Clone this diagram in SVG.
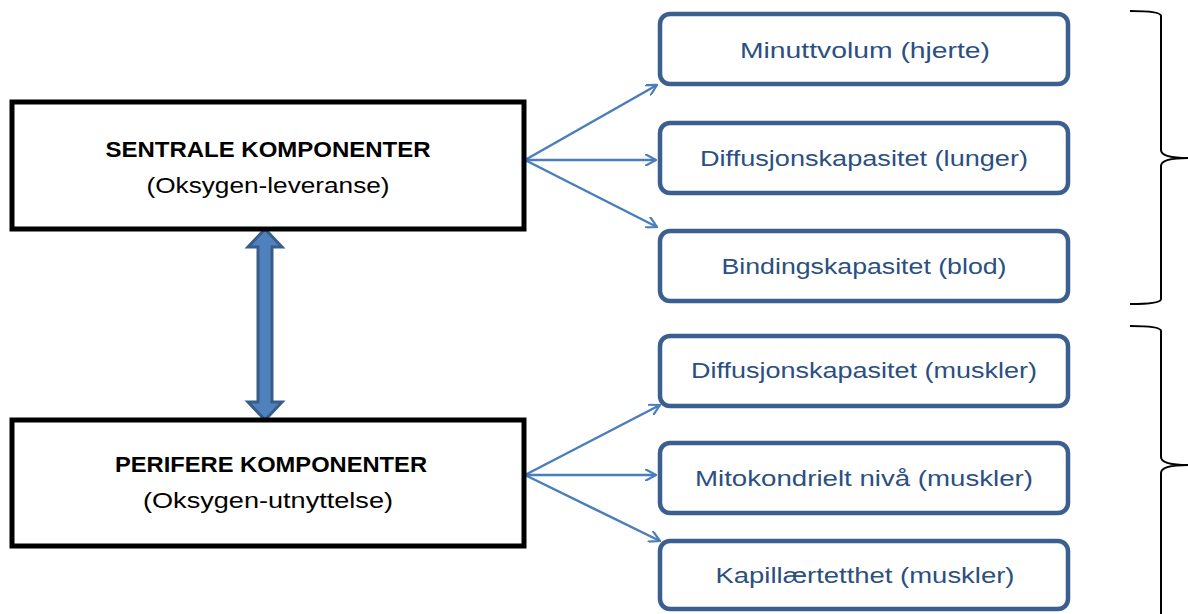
<svg xmlns="http://www.w3.org/2000/svg" width="1188" height="614" viewBox="0 0 1188 614">
<defs>
<style>
.main{fill:#fff;stroke:#000;stroke-width:5}
.sub{fill:#fff;stroke:#3b5f8f;stroke-width:4.5}
.t1{font-family:"Liberation Sans",Arial,sans-serif;font-size:22px;fill:#000;text-anchor:middle}
.b{font-weight:bold}
.t2{font-family:"Liberation Sans",Arial,sans-serif;font-size:22px;fill:#2b4f82;text-anchor:middle}
.conn{stroke:#4a7ebb;stroke-width:2.5;fill:none;marker-end:url(#ah)}
.brace{fill:none;stroke:#000;stroke-width:2}
</style>
<marker id="ah" viewBox="0 0 12 12" refX="11" refY="6" markerWidth="12" markerHeight="12" markerUnits="userSpaceOnUse" orient="auto">
<path d="M0,0 L11,6 L0,12" fill="none" stroke="#4a7ebb" stroke-width="2.2"/>
</marker>
</defs>
<g id="connectors">
<path d="M525,160 L657,85" class="conn"/>
<path d="M525,160 L656,160" class="conn"/>
<path d="M525,160 L657,227" class="conn"/>
<path d="M525,475 L660,405" class="conn"/>
<path d="M525,475 L656,475" class="conn"/>
<path d="M525,475 L660,541" class="conn"/>
<path d="M265,229 L282,247 L272,247 L272,402 L282,402 L265,420 L248,402 L258,402 L258,247 L248,247 Z" fill="#4f81bd" stroke="#385d8a" stroke-width="3"/>
</g>
<g id="sentrale">
<rect class="main" x="12" y="102" width="512" height="127"/>
<text class="t1 b" x="268" y="157" textLength="325" lengthAdjust="spacingAndGlyphs">SENTRALE KOMPONENTER</text>
<text class="t1" x="268" y="193" textLength="243" lengthAdjust="spacingAndGlyphs">(Oksygen-leveranse)</text>
</g>
<g id="perifere">
<rect class="main" x="12" y="420" width="512" height="126"/>
<text class="t1 b" x="271" y="472" textLength="312" lengthAdjust="spacingAndGlyphs">PERIFERE KOMPONENTER</text>
<text class="t1" x="268" y="508" textLength="250" lengthAdjust="spacingAndGlyphs">(Oksygen-utnyttelse)</text>
</g>
<g id="n1"><rect class="sub" x="660" y="14" width="408" height="70" rx="10"/><text class="t2" x="865" y="58" textLength="250" lengthAdjust="spacingAndGlyphs">Minuttvolum (hjerte)</text></g>
<g id="n2"><rect class="sub" x="660" y="123" width="408" height="70" rx="10"/><text class="t2" x="864" y="166" textLength="328" lengthAdjust="spacingAndGlyphs">Diffusjonskapasitet (lunger)</text></g>
<g id="n3"><rect class="sub" x="660" y="231" width="408" height="70" rx="10"/><text class="t2" x="864" y="274" textLength="285" lengthAdjust="spacingAndGlyphs">Bindingskapasitet (blod)</text></g>
<g id="n4"><rect class="sub" x="660" y="336" width="408" height="70" rx="10"/><text class="t2" x="864" y="378" textLength="346" lengthAdjust="spacingAndGlyphs">Diffusjonskapasitet (muskler)</text></g>
<g id="n5"><rect class="sub" x="660" y="443" width="408" height="70" rx="10"/><text class="t2" x="864" y="486" textLength="338" lengthAdjust="spacingAndGlyphs">Mitokondrielt nivå (muskler)</text></g>
<g id="n6"><rect class="sub" x="660" y="541" width="408" height="68" rx="10"/><text class="t2" x="865" y="583" textLength="299" lengthAdjust="spacingAndGlyphs">Kapillærtetthet (muskler)</text></g>
<g id="braces">
<path class="brace" d="M1130,11 Q1161,11 1161,16 L1161,150 Q1161,158 1188,158 Q1161,158 1161,166 L1161,299 Q1161,304 1130,304"/>
<path class="brace" d="M1130,326 Q1161,326 1161,331 L1161,457 Q1161,465 1188,465 Q1161,465 1161,473 L1161,614"/>
</g>
</svg>
